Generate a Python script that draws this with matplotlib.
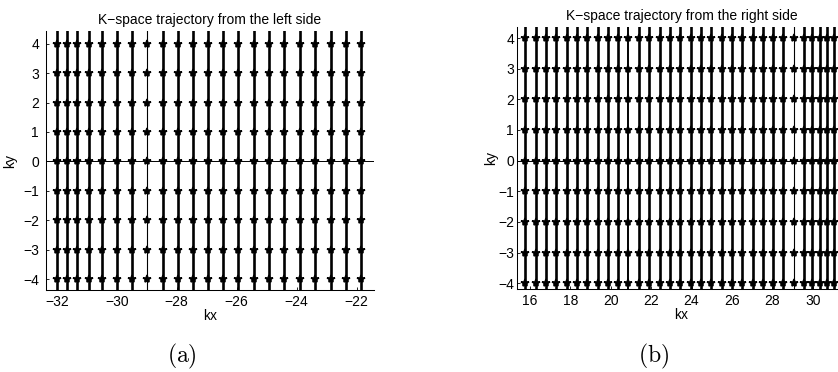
import numpy as np
import matplotlib
matplotlib.use('Agg')
import matplotlib.pyplot as plt

plt.rcParams['font.family'] = ['Liberation Sans', 'DejaVu Sans']
plt.rcParams['mathtext.fontset'] = 'cm'
plt.rcParams['axes.unicode_minus'] = True

# kx positions of the vertical trajectory lines
kx_left = [-32.0, -31.66, -31.31, -30.92, -30.48, -30.0, -29.48, -28.98,
           -28.47, -27.96, -27.45, -26.95, -26.45, -25.94, -25.43, -24.92,
           -24.41, -23.90, -23.39, -22.87, -22.36, -21.84]
kx_right = [15.77, 16.30, 16.80, 17.31, 17.83, 18.34, 18.85, 19.36, 19.87,
            20.38, 20.88, 21.40, 21.92, 22.42, 22.94, 23.45, 23.95, 24.46,
            24.98, 25.49, 25.99, 26.50, 27.02, 27.52, 28.03, 28.54, 29.06,
            29.55, 29.98, 30.36, 30.72, 31.05]
# lines that are drawn only once (thin in the picture)
thin_left = [-28.98]
thin_right = [29.06]
medium_right = [20.88]

ky_samples = [-4, -3, -2, -1, 0, 1, 2, 3, 4]

xticks_left = [-32, -30, -28, -26, -24, -22]
xticks_right = [16, 18, 20, 22, 24, 26, 28, 30]
yticks = [-4, -3, -2, -1, 0, 1, 2, 3, 4]

fig = plt.figure(figsize=(8.38, 3.72), dpi=100)
ax1 = fig.add_axes([0.0545, 0.2204, 0.3918, 0.6962])
ax2 = fig.add_axes([0.6173, 0.2223, 0.3918, 0.7043])


def draw_panel(ax, kx, thin, medium, title):
    ax.axhline(0, color='k', lw=0.7, zorder=1)
    for x in kx:
        lw = 1.9
        if x in thin:
            lw = 0.8
        elif x in medium:
            lw = 1.4
        ax.axvline(x, color='k', lw=lw, zorder=2)
        ax.plot(np.full(len(ky_samples), x), ky_samples, '*', color='k',
                ms=6, mew=1.1, zorder=3)
    ax.set_title(title, fontsize=10, pad=5)
    ax.set_xlabel('kx', fontsize=10, labelpad=0)
    for s in ['top', 'right']:
        ax.spines[s].set_visible(False)
    for s in ['left', 'bottom']:
        ax.spines[s].set_linewidth(0.75)
    ax.set_yticks(yticks)
    ax.tick_params(direction='in', length=2.5, width=0.6, labelsize=10)


draw_panel(ax1, kx_left, thin_left, [], 'K\u2212space trajectory from the left side')
ax1.set_xlim(-32.37, -21.42)
ax1.set_ylim(-4.37, 4.43)
ax1.set_xticks(xticks_left)
ax1.set_ylabel('ky', fontsize=10, labelpad=4)
ax1.tick_params(axis='y', pad=4.8)

draw_panel(ax2, kx_right, thin_right, medium_right, 'K\u2212space trajectory from the right side')
ax2.set_xlim(15.375, 31.63)
ax2.set_ylim(-4.2, 4.35)
ax2.set_xticks(xticks_right)
ax2.set_ylabel('ky', fontsize=10, labelpad=0)
ax2.tick_params(axis='y', pad=2.4)

fig.text(181.7 / 838, 1 - 356.7 / 372, r'$\mathrm{(a)}$', ha='center', va='center', fontsize=17)
fig.text(653.3 / 838, 1 - 356.0 / 372, r'$\mathrm{(b)}$', ha='center', va='center', fontsize=17)

fig.savefig('out.png', dpi=100)
